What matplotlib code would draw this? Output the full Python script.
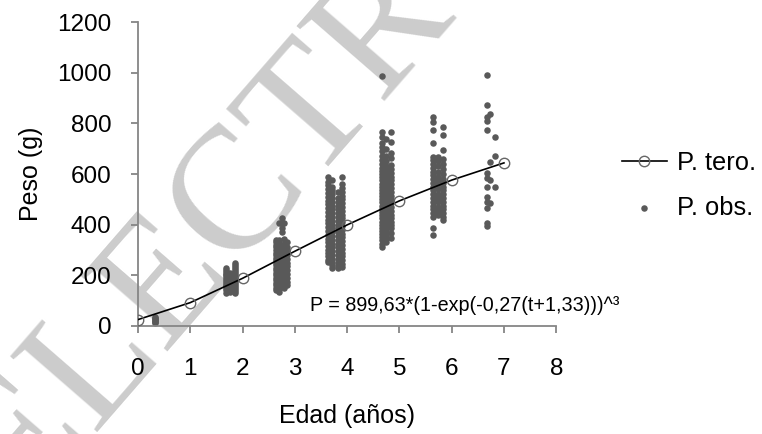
import numpy as np
import matplotlib
matplotlib.use("Agg")
import matplotlib.pyplot as plt

plt.rcParams['font.family'] = ['Liberation Sans', 'DejaVu Sans']

# Theoretical weight (P. tero.) at integer ages
age_teo = [0, 1, 2, 3, 4, 5, 6, 7]
peso_teo = [25, 92, 188, 295, 399, 494, 576, 644]

# Observed weights (P. obs.), read per column of points
obs_cols = {
    0.33: [10, 14, 18, 22, 26, 30, 34],
    # age ~2
    1.68: [132, 140, 148, 156, 163, 170, 177, 185, 192, 200, 207, 214, 222, 229],
    1.76: [135, 150, 165, 180, 195, 208],
    1.86: [130, 138, 146, 154, 162, 170, 178, 186, 194, 202, 210, 218, 226, 234, 242, 249],
    # age ~3
    2.64: [140, 150, 160, 170, 180, 190, 200, 210, 220, 230, 240, 250, 260, 270, 280, 290, 300, 310, 320, 330, 340],
    2.70: [134, 145, 158, 172, 186, 200, 214, 228, 242, 256, 270, 284, 298, 312, 326, 338, 405],
    2.75: [372, 385, 405, 428],
    2.80: [150, 162, 175, 190, 205, 220, 235, 250, 265, 280, 295, 310, 325, 345, 405],
    2.86: [162, 175, 190, 205, 220, 235, 250, 265, 280, 295, 310, 330],
    # age ~4
    3.63: [252, 262, 275, 288, 300, 315, 330, 345, 360, 375, 390, 405, 420, 435, 450, 465, 480, 495, 510, 525, 540, 555, 570, 588],
    3.72: [229, 240, 252, 265, 280, 295, 310, 325, 340, 355, 370, 385, 400, 415, 430, 445, 460, 475, 490, 505, 520, 535, 550, 576],
    3.82: [229, 238, 250, 265, 280, 295, 310, 325, 340, 355, 370, 385, 400, 415, 430, 445, 460, 475, 490, 505, 529],
    3.90: [233, 245, 260, 275, 290, 305, 320, 335, 350, 365, 380, 395, 410, 425, 440, 455, 470, 485, 500, 515, 530, 545, 560, 588],
    # age ~5
    4.67: [312, 325, 338, 350, 362, 375, 388, 400, 412, 425, 438, 450, 462, 475, 488, 500, 512, 525, 538, 550,
           562, 575, 588, 600, 612, 625, 640, 655, 672, 690, 705, 722, 745, 766, 987],
    4.75: [330, 345, 360, 375, 390, 405, 420, 435, 450, 465, 480, 495, 510, 525, 540, 555, 570, 585, 600, 615, 630, 650, 670, 700, 740],
    4.84: [347, 367, 385, 400, 412, 425, 440, 455, 470, 485, 500, 515, 530, 545, 560, 575, 590, 605, 620, 636, 663, 683, 726, 766],
    # age ~6
    5.64: [359, 387, 430, 445, 460, 475, 490, 505, 520, 535, 550, 565, 580, 595, 610, 625, 640, 655, 667, 722, 774, 806, 825],
    5.74: [440, 455, 470, 488, 505, 520, 540, 560, 575, 590, 610, 630, 650, 667],
    5.83: [418, 430, 445, 460, 475, 490, 505, 520, 535, 550, 565, 580, 600, 620, 640, 660, 695, 754, 786],
    # age ~7
    6.67: [395, 405, 466, 490, 509, 549, 584, 604, 774, 809, 825, 872, 990],
    6.73: [486, 576, 648, 837],
    6.83: [549, 671, 746],
}

obs_age = np.concatenate([[a] * len(v) for a, v in obs_cols.items()])
obs_peso = np.concatenate([v for v in obs_cols.values()])

fig = plt.figure(figsize=(7.62, 4.34), dpi=100)

# watermark behind the chart
fig.text(-0.09, -0.15, "ELECTRÓNICA", family=['Liberation Serif', 'DejaVu Serif'],
         fontsize=126, color='#cccccc', rotation=49, ha='left', va='baseline', zorder=0)

ax = fig.add_axes([0.181, 0.249, 0.549, 0.70])
ax.set_zorder(2)
ax.patch.set_alpha(0)

ax.scatter(obs_age, obs_peso, s=22, color='#595959', linewidths=0, zorder=2, label='P. obs.')
ax.plot(age_teo, peso_teo, color='black', lw=1.2, marker='o', ms=7.5, mfc='none',
        mec='#666666', mew=1.0, zorder=3, label='P. tero.')

ax.set_xlim(0, 8)
ax.set_ylim(0, 1200)
ax.set_xticks(range(0, 9))
ax.set_yticks(range(0, 1201, 200))
for s in ['top', 'right']:
    ax.spines[s].set_visible(False)
for s in ['left', 'bottom']:
    ax.spines[s].set_color('#868686')
    ax.spines[s].set_linewidth(1.3)
ax.tick_params(axis='both', colors='#868686', labelcolor='black', labelsize=17.5,
               length=5, width=1.3, direction='out')
ax.tick_params(axis='x', pad=18)
ax.tick_params(axis='y', pad=14)

ax.set_xlabel('Edad (años)', fontsize=18)
ax.set_ylabel('Peso (g)', fontsize=18)
ax.xaxis.set_label_coords(0.5, -0.257)
ax.yaxis.set_label_coords(-0.227, 0.5)

ax.text(3.29, 79, 'P = 899,63*(1-exp(-0,27(t+1,33)))^³', fontsize=14.2, va='center')

h, l = ax.get_legend_handles_labels()
leg = fig.legend([h[1], h[0]], [l[1], l[0]], loc='center left', bbox_to_anchor=(0.816, 0.573),
                 frameon=False, fontsize=18.4, handlelength=1.75, handletextpad=0.4,
                 labelspacing=0.8, borderaxespad=0, borderpad=0)
leg.set_zorder(3)

fig.savefig('out.png', dpi=100)
